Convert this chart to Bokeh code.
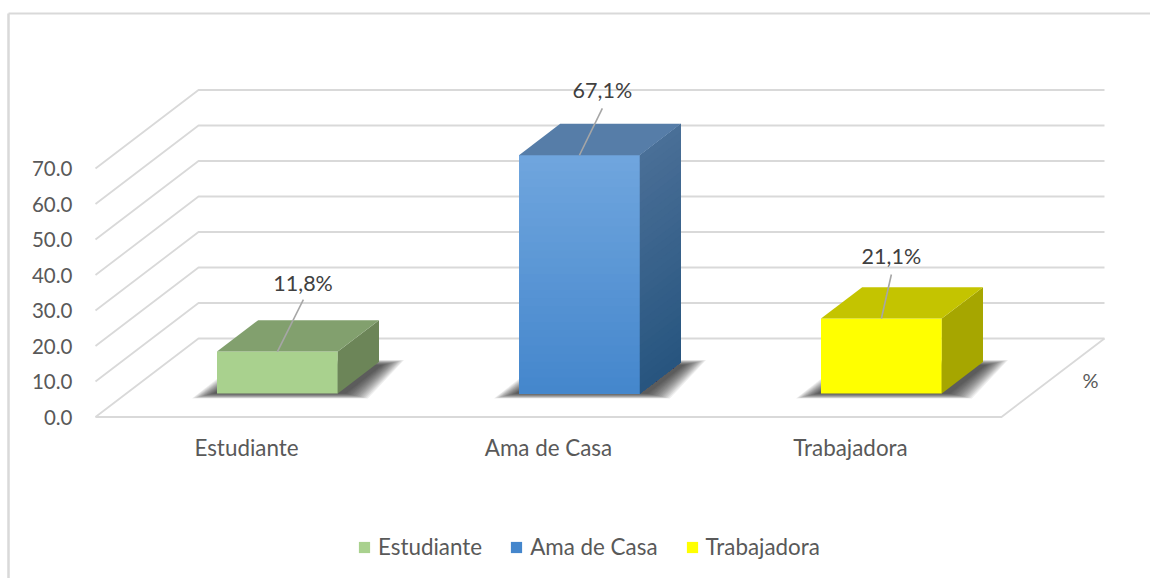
from bokeh.plotting import figure
from bokeh.models import Legend, LegendItem, FixedTicker, Label, NumeralTickFormatter
from bokeh.core.properties import value as V
from bokeh.embed import file_html
from bokeh.resources import INLINE

categories = ["Estudiante", "Ama de Casa", "Trabajadora"]
values = [11.8, 67.1, 21.1]
value_labels = ["11,8%", "67,1%", "21,1%"]
y_ticks = [0, 10, 20, 30, 40, 50, 60, 70]
grid_levels = [0, 10, 20, 30, 40, 50, 60, 70]

# Colours of each bar: front top, front bottom, side top, side bottom, roof
bar_colors = [
    ("#A9D18E", "#A9D18E", "#6C8558", "#6C8558", "#82A06E"),
    ("#70A6DE", "#4486CC", "#4A6F97", "#27557F", "#567DA8"),
    ("#FFFF00", "#FFFF00", "#A6A600", "#A6A600", "#C4C400"),
]
label_shift_x = [0.085, 0.076, 0.033]
label_shift_y = [19.4, 18.3, 17.5]
leader_shift_x = [0.086, 0.076, 0.033]
leader_shift_y = [14.6, 13.2, 12.4]

FONT = "Lato"
GRID = "#D9D9D9"
W, H = 1150, 578
PX_X = 302.0       # pixels per category
PX_Y = 3.55        # pixels per value unit
DEPTH_X = 103.0 / PX_X
DEPTH_Y = 78.5 / PX_Y
X0 = -0.5 - 95 / PX_X
X1 = X0 + W / PX_X
Y1 = 416.5 / PX_Y
Y0 = Y1 - H / PX_Y
BAR_W = 0.4
D0, D1 = 0.3, 0.7


def pr(c, d, v):
    """Project category position c, depth fraction d, value v to plot data."""
    return c + d * DEPTH_X, v + d * DEPTH_Y


def mix(a, b, t):
    ca = [int(a[i:i + 2], 16) for i in (1, 3, 5)]
    cb = [int(b[i:i + 2], 16) for i in (1, 3, 5)]
    return "#%02x%02x%02x" % tuple(round(x + (y - x) * t) for x, y in zip(ca, cb))


p = figure(width=W, height=H, x_range=(X0, X1), y_range=(Y0, Y1),
           output_backend="svg", toolbar_location=None, min_border=0)
p.grid.visible = False
p.outline_line_color = None
p.background_fill_color = "white"

# Chart frame
left_x = X0 + 8 / PX_X
top_y = (416.5 - 13) / PX_Y
p.line([left_x, left_x], [Y0, top_y], line_color=GRID, line_width=2.5)
p.line([left_x, X1], [top_y, top_y], line_color=GRID, line_width=2)

# Walls and floor
for lv in grid_levels:
    xa, ya = pr(-0.5, 0, lv)
    xb, yb = pr(-0.5, 1, lv)
    xc, yc = pr(2.5, 1, lv)
    p.line([xa, xb, xc], [ya, yb, yc], line_color=GRID, line_width=1.8)
xa, ya = pr(-0.5, 0, 0)
xb, yb = pr(2.5, 0, 0)
xc, yc = pr(2.5, 1, 0)
p.line([xa, xb, xc], [ya, yb, yc], line_color=GRID, line_width=1.8)

# Shadows, soft edge made of stacked translucent shapes
layers = 16
for i in range(3):
    left = i - BAR_W / 2
    right = i + BAR_W / 2
    xb0, yb0 = pr(left, D0, 0)
    xb1, yb1 = pr(right, D0, 0)
    xb2, yb2 = pr(right, D1, 0)
    xb3, yb3 = pr(left, D1, 0)
    for k in range(layers):
        grow = (layers - 1 - k) / (layers - 1)
        dx = 22 * grow / PX_X
        dy = 5 * grow / PX_Y
        xs = [xb0 - 3 / PX_X - dx, xb1 + 8 / PX_X + dx, xb2 + 3 / PX_X + dx, xb3 + 5 / PX_X - dx]
        ys = [yb0 - dy, yb1 - dy, yb2 + dy - 3 / PX_Y, yb3 + dy - 3 / PX_Y]
        p.patch(xs, ys, fill_color="#202020", fill_alpha=0.08, line_color=None)

# Bars
legend_items = []
STRIPS = 30
for i, (cat, val, cols) in enumerate(zip(categories, values, bar_colors)):
    left = i - BAR_W / 2
    right = i + BAR_W / 2
    f_top, f_bot, s_top, s_bot, roof = cols
    fx0, fy0 = pr(left, D0, 0)
    fx1, _ = pr(right, D0, 0)
    _, fy1 = pr(left, D0, val)
    base = p.quad(left=fx0, right=fx1, bottom=fy0, top=fy1,
                  fill_color=f_bot, line_color=None)
    legend_items.append(LegendItem(label=cat, renderers=[base]))
    a = pr(right, D0, 0)
    b = pr(right, D1, 0)
    c = pr(right, D1, val)
    d = pr(right, D0, val)
    p.patch([a[0], b[0], c[0], d[0]], [a[1], b[1], c[1], d[1]],
            fill_color=s_bot, line_color=None)
    if f_top != f_bot:
        # painted top to bottom: each later strip overwrites everything below itself
        for s in range(STRIPS):
            t = (s + 0.5) / STRIPS
            v_top = val * (1 - s / STRIPS)
            col = mix(f_top, f_bot, t)
            p.quad(left=fx0, right=fx1, bottom=fy0, top=fy0 + v_top,
                   fill_color=col, line_color=None)
            col = mix(s_top, s_bot, t)
            a = pr(right, D0, 0)
            b = pr(right, D1, 0)
            c = pr(right, D1, v_top)
            d = pr(right, D0, v_top)
            p.patch([a[0], b[0], c[0], d[0]], [a[1], b[1], c[1], d[1]],
                    fill_color=col, line_color=None)
    a = pr(left, D0, val)
    b = pr(right, D0, val)
    c = pr(right, D1, val)
    d = pr(left, D1, val)
    p.patch([a[0], b[0], c[0], d[0]], [a[1], b[1], c[1], d[1]],
            fill_color=roof, line_color=None)

    # Leader line and data label
    lx, ly = pr(i, D0, val)
    p.line([lx, lx + leader_shift_x[i]], [ly, ly + leader_shift_y[i]],
           line_color="#A6A6A6", line_width=1.6)
    p.text([lx + label_shift_x[i]], [ly + label_shift_y[i]], text=[value_labels[i]],
           text_font=V(FONT), text_font_size="21.5px", text_color="#404040",
           text_align="center", text_baseline="middle")

# Axes, placed at fixed spots inside the plot
p.yaxis.fixed_location = -0.5
p.yaxis.ticker = FixedTicker(ticks=y_ticks)
p.yaxis.formatter = NumeralTickFormatter(format="0.0")
p.yaxis.axis_line_color = None
p.yaxis.major_tick_line_color = None
p.yaxis.minor_tick_line_color = None
p.yaxis.major_label_standoff = 17
p.yaxis.major_label_text_font = FONT
p.yaxis.major_label_text_font_size = "20.5px"
p.yaxis.major_label_text_color = "#595959"

p.xaxis.fixed_location = 0
p.xaxis.ticker = FixedTicker(ticks=[0, 1, 2])
p.xaxis.major_label_overrides = {i: c for i, c in enumerate(categories)}
p.xaxis.axis_line_color = None
p.xaxis.major_tick_line_color = None
p.xaxis.minor_tick_line_color = None
p.xaxis.major_label_standoff = 11
p.xaxis.major_label_text_font = FONT
p.xaxis.major_label_text_font_size = "22.4px"
p.xaxis.major_label_text_color = "#595959"

p.add_layout(Label(x=1090, y=H - 379, x_units="screen", y_units="screen", text="%",
                   text_font=FONT, text_font_size="20px", text_color="#595959",
                   text_align="center", text_baseline="middle"))

legend = Legend(items=legend_items, orientation="horizontal", location=(357, 18),
                background_fill_alpha=0, border_line_color=None,
                glyph_width=14, glyph_height=14, label_standoff=7, spacing=27,
                padding=0, margin=0, label_text_font=FONT,
                label_text_font_size="22.4px", label_text_color="#595959")
p.add_layout(legend)

open("out.html", "w").write(file_html(p, INLINE))
